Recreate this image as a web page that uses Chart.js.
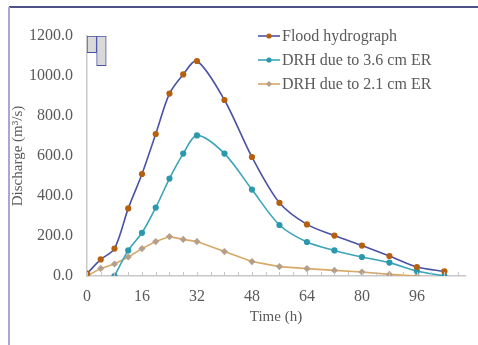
<!DOCTYPE html>
<html>
<head>
<meta charset="utf-8">
<script src="https://cdn.jsdelivr.net/npm/chart.js@4"></script>
<style>
  html, body { margin: 0; padding: 0; background: #ffffff; }
  #wrap { position: relative; width: 478px; height: 345px; overflow: hidden; }
  #frameTop { position: absolute; left: 9px; top: 6px; width: 469px; height: 0; border-top: 2px solid #4f5288; }
  #frameLeft { position: absolute; left: 8px; top: 7px; width: 0; height: 338px; border-left: 2px solid #a8a8d2; }
  canvas { position: absolute; left: 0; top: 0; }
</style>
</head>
<body>
<div id="wrap">
  <canvas id="c" width="478" height="345"></canvas>
  <div id="frameTop"></div>
  <div id="frameLeft"></div>
</div>
<script>
const times = [0, 4, 8, 12, 16, 20, 24, 28, 32, 40, 48, 56, 64, 72, 80, 88, 96, 104];
const flood = [12, 83, 137, 338, 510, 710, 912, 1008, 1075, 880, 595, 366, 258, 202, 152, 100, 45, 23];
const drh36 = [null, null, 0, 128, 216, 342, 487, 612, 703, 612, 432, 255, 170, 128, 95, 67, 25, 0];
const drh21 = [0, 38, 60, 95, 137, 172, 197, 183, 172, 122, 72, 47, 37, 28, 20, 8, 0, null];
const rainTimes = [1.4, 4.2];
const rainBottom = [1117, 1052];
const rainTop = 1200;
const seriesNames = ['Flood hydrograph', 'DRH due to 3.6 cm ER', 'DRH due to 2.1 cm ER'];
const xTickLabels = [0, 16, 32, 48, 64, 80, 96];
const yTickLabels = [0, 200, 400, 600, 800, 1000, 1200];

const FONT = '"Liberation Serif", "Times New Roman", serif';
const TEXT = '#5a5a5a';

function pts(arr) {
  const out = [];
  arr.forEach((v, i) => { if (v !== null) out.push({ x: times[i], y: v }); });
  return out;
}

const legendPlugin = {
  id: 'customLegend',
  afterDraw(chart) {
    const ctx = chart.ctx;
    const x0 = 258, x1 = 280, rows = [36, 60, 84];
    ctx.save();
    [0, 1, 2].forEach(i => {
      const ds = chart.data.datasets[i];
      const y = rows[i];
      ctx.strokeStyle = ds.borderColor;
      ctx.lineWidth = 1.6;
      ctx.beginPath(); ctx.moveTo(x0, y); ctx.lineTo(x1, y); ctx.stroke();
      const cx = (x0 + x1) / 2;
      ctx.fillStyle = ds.pointBackgroundColor;
      ctx.beginPath();
      if (ds.pointStyle === 'rectRot') {
        const r = 3;
        ctx.moveTo(cx, y - r); ctx.lineTo(cx + r, y); ctx.lineTo(cx, y + r); ctx.lineTo(cx - r, y);
        ctx.closePath();
      } else {
        ctx.arc(cx, y, 2.6, 0, Math.PI * 2);
      }
      ctx.fill();
      ctx.fillStyle = TEXT;
      ctx.font = '16px ' + FONT;
      ctx.textBaseline = 'middle';
      ctx.textAlign = 'left';
      ctx.fillText(seriesNames[i], x1 + 2, y + 1);
    });
    ctx.restore();
  }
};

const minorTicksPlugin = {
  id: 'minorTicks',
  afterDatasetsDraw(chart) {
    const xs = chart.scales.x;
    const ctx = chart.ctx;
    const yb = chart.chartArea.bottom;
    ctx.save();
    ctx.strokeStyle = '#c4c4c4';
    ctx.lineWidth = 1;
    xs.ticks.forEach(t => {
      const px = Math.round(xs.getPixelForValue(t.value)) + 0.5;
      ctx.beginPath(); ctx.moveTo(px, yb - 4); ctx.lineTo(px, yb); ctx.stroke();
    });
    ctx.restore();
  }
};

new Chart(document.getElementById('c'), {
  type: 'line',
  data: {
    datasets: [
      {
        label: seriesNames[0],
        data: pts(flood),
        borderColor: '#4a52a6',
        borderWidth: 1.6,
        pointBackgroundColor: '#b5600f',
        pointBorderColor: '#b5600f',
        pointBorderWidth: 0,
        pointRadius: 3.1,
        pointStyle: 'circle',
        tension: 0.3,
        fill: false,
        order: 1
      },
      {
        label: seriesNames[1],
        data: pts(drh36),
        borderColor: '#3ba5b8',
        borderWidth: 1.6,
        pointBackgroundColor: '#2b98ad',
        pointBorderColor: '#2b98ad',
        pointBorderWidth: 0,
        pointRadius: 3.1,
        pointStyle: 'circle',
        tension: 0.3,
        fill: false,
        order: 2
      },
      {
        label: seriesNames[2],
        data: pts(drh21),
        borderColor: '#d8a866',
        borderWidth: 1.6,
        pointBackgroundColor: '#b59f8a',
        pointBorderColor: '#b59f8a',
        pointBorderWidth: 0,
        pointRadius: 3.6,
        pointStyle: 'rectRot',
        tension: 0,
        fill: false,
        order: 3
      },
      {
        type: 'bar',
        label: 'Rainfall',
        data: rainTimes.map((t, i) => ({ x: t, y: [rainBottom[i], rainTop] })),
        backgroundColor: '#d9d9d9',
        borderColor: '#4a52a6',
        borderWidth: 1,
        borderSkipped: false,
        barPercentage: 1,
        categoryPercentage: 1,
        order: 4
      }
    ]
  },
  options: {
    responsive: false,
    animation: false,
    devicePixelRatio: 1,
    layout: { padding: { left: 9, right: 13, top: 36, bottom: 0 } },
    plugins: {
      legend: { display: false },
      tooltip: { enabled: false }
    },
    scales: {
      x: {
        type: 'linear',
        min: 0,
        max: 110,
        offset: false,
        afterFit(s) { s.height = 69; },
        afterBuildTicks(s) {
          const t = [];
          for (let v = 0; v <= 108; v += 4) t.push({ value: v });
          s.ticks = t;
        },
        ticks: {
          autoSkip: false,
          maxRotation: 0,
          padding: 11,
          color: TEXT,
          font: { family: FONT, size: 16 },
          callback: v => (xTickLabels.includes(v) ? String(v) : '')
        },
        grid: { display: true, offset: false, drawOnChartArea: false, drawTicks: false },
        border: { color: '#c8c8c8', width: 1.5 },
        title: {
          display: true,
          text: 'Time (h)',
          color: TEXT,
          font: { family: FONT, size: 15 },
          padding: { top: 0, bottom: 19 }
        }
      },
      y: {
        min: 0,
        max: 1200,
        afterFit(s) { s.width = 78; },
        afterBuildTicks(s) { s.ticks = yTickLabels.map(v => ({ value: v })); },
        ticks: {
          padding: 14,
          color: TEXT,
          font: { family: FONT, size: 16 },
          callback: v => Number(v).toFixed(1)
        },
        grid: { display: true, drawOnChartArea: false, drawTicks: false },
        border: { color: '#c8c8c8', width: 1.5 },
        title: {
          display: true,
          text: 'Discharge (m³/s)',
          color: TEXT,
          font: { family: FONT, size: 15 },
          padding: { top: 0, bottom: 0 }
        }
      }
    }
  },
  plugins: [legendPlugin, minorTicksPlugin]
});
</script>
</body>
</html>
